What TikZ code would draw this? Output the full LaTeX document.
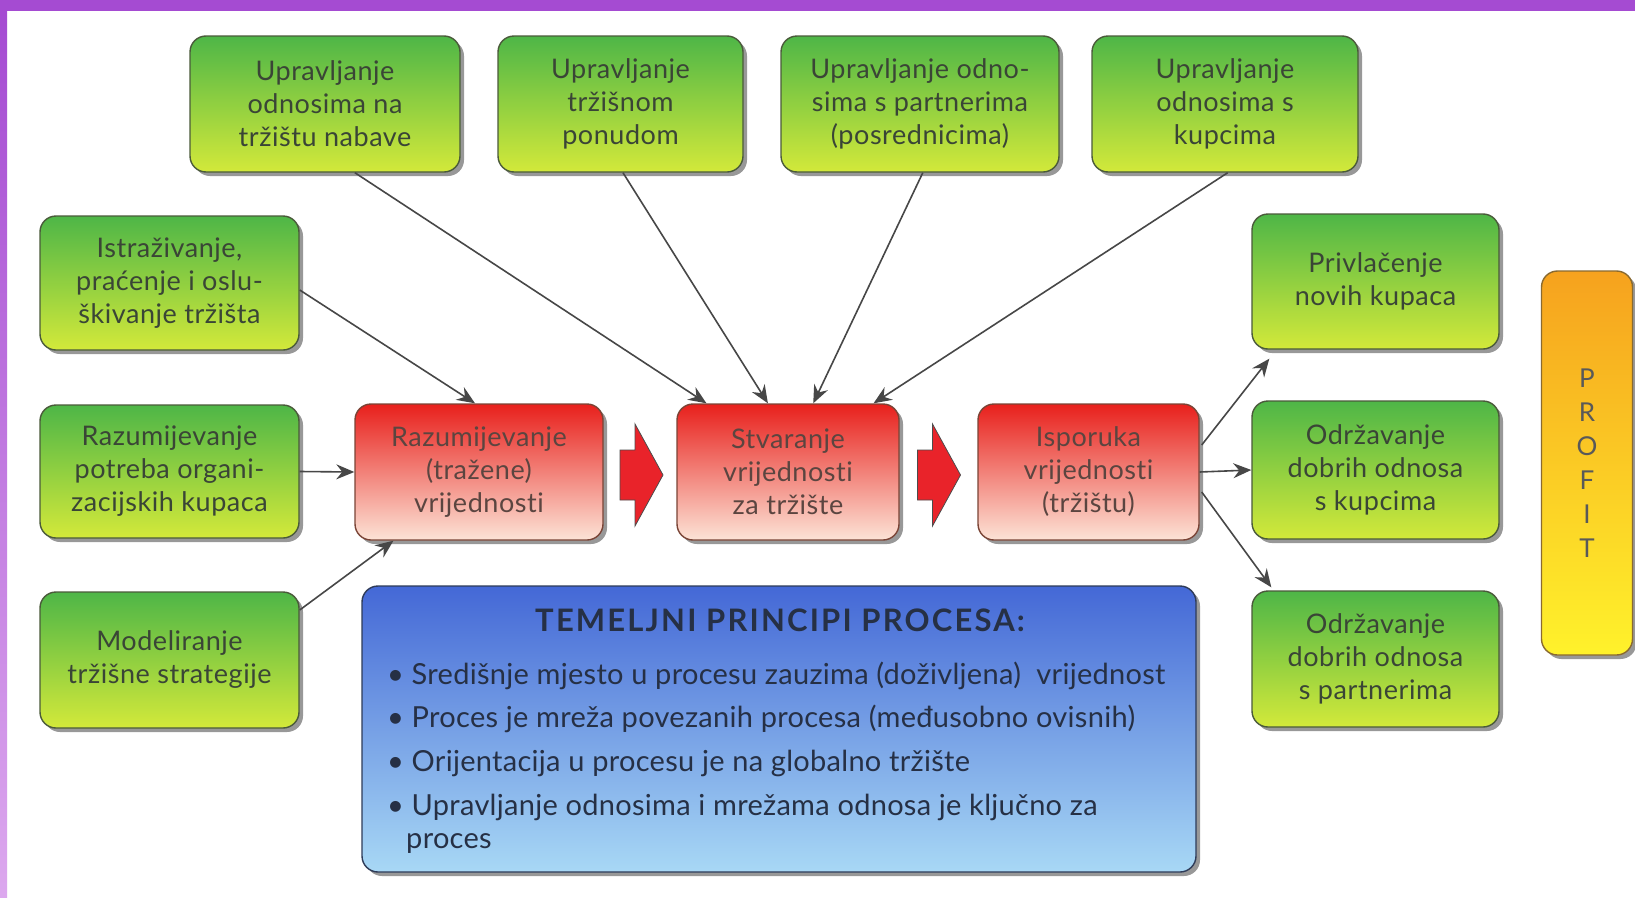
\documentclass[tikz,border=0pt]{standalone}
\usepackage{fontspec}
\setmainfont{Lato}
\newfontfamily\boxfont[LetterSpace=2, Ligatures=NoCommon]{Lato}
\newfontfamily\titlefont[LetterSpace=7, Ligatures=NoCommon]{Lato Bold}
\newfontfamily\listfont[LetterSpace=1, Ligatures=NoCommon]{Lato}
\usetikzlibrary{shadows,arrows.meta,calc}

\definecolor{framepurple}{HTML}{A54BD2}
\definecolor{framelight}{HTML}{DCA8EE}
\definecolor{greentop}{HTML}{4EB647}
\definecolor{greenbot}{HTML}{D3E93A}
\definecolor{greenedge}{HTML}{4A5A3A}
\definecolor{greentext}{HTML}{3A4536}
\definecolor{redtop}{HTML}{E8201C}
\definecolor{redmid}{HTML}{F38058}
\definecolor{redbot}{HTML}{FCE3D6}
\definecolor{rededge}{HTML}{7A4436}
\definecolor{redtext}{HTML}{5B4540}
\definecolor{bluetop}{HTML}{4468D6}
\definecolor{bluebot}{HTML}{A8D8F5}
\definecolor{blueedge}{HTML}{2E3B58}
\definecolor{bluetext}{HTML}{263045}
\definecolor{profittop}{HTML}{F6A21E}
\definecolor{profitmid}{HTML}{FCD02A}
\definecolor{profitbot}{HTML}{FFF22B}
\definecolor{profitedge}{HTML}{8A6A30}
\definecolor{linkgray}{HTML}{474747}
\definecolor{arrowred}{HTML}{E9232A}

\tikzset{
  box/.style={rounded corners=16pt, draw, line width=1.4pt, align=center,
    inner sep=0pt,
    drop shadow={shadow xshift=4pt, shadow yshift=-4pt, opacity=0.5, fill=black!80}},
  greenbox/.style={box, draw=greenedge, top color=greentop, bottom color=greenbot,
    text=greentext, font=\boxfont\fontsize{27}{33}\selectfont},
  redbox/.style={box, draw=rededge, top color=redtop, middle color=redmid,
    bottom color=redbot, text=redtext, font=\boxfont\fontsize{27}{33}\selectfont},
  bluebox/.style={box, draw=blueedge, top color=bluetop, bottom color=bluebot},
  profitbox/.style={box, draw=profitedge, top color=profittop, middle color=profitmid,
    bottom color=profitbot, text=black!65, font=\boxfont\fontsize{26}{34}\selectfont},
  link/.style={draw=linkgray, line width=1.6pt,
    -{Stealth[length=18pt, width=15pt, inset=6pt]}},
  titletext/.style={font=\titlefont\fontsize{31}{32}\selectfont, text=bluetext, inner sep=0pt},
  bullettext/.style={font=\listfont\fontsize{29}{33}\selectfont, text=bluetext, inner sep=0pt,
    align=left},
  pics/redarrow/.style={code={
    \filldraw[fill=arrowred, draw=black!70, line width=0.8pt]
      (-21,-25) -- (-6,-25) -- (-6,-51) -- (22,0) -- (-6,51) -- (-6,25)
      -- (-21,25) -- cycle;}}
}

\begin{document}
\begin{tikzpicture}[x=1pt, y=-1pt]
\useasboundingbox (0,0) rectangle (1635,897);
\fill[white] (0,0) rectangle (1635,897);
% frame
\fill[framepurple] (0,0) rectangle (1635,11);
\shade[top color=framepurple, bottom color=framelight] (0,11) rectangle (7,897);

% top row
\node[greenbox, minimum width=270pt, minimum height=136pt] (t1) at (325,104)
  {Upravljanje\\odnosima na\\tržištu nabave};
\node[greenbox, minimum width=245pt, minimum height=136pt] (t2) at (620.5,104)
  {Upravljanje\\tržišnom\\ponudom};
\node[greenbox, minimum width=278pt, minimum height=136pt] (t3) at (920,104)
  {Upravljanje odno-\\sima s partnerima\\(posrednicima)};
\node[greenbox, minimum width=266pt, minimum height=136pt] (t4) at (1225,104)
  {Upravljanje\\odnosima s\\kupcima};

% left column
\node[greenbox, minimum width=259pt, minimum height=134pt] (l1) at (169.5,283)
  {Istraživanje,\\praćenje i oslu-\\škivanje tržišta};
\node[greenbox, minimum width=259pt, minimum height=133pt] (l2) at (169.5,471.5)
  {Razumijevanje\\potreba organi-\\zacijskih kupaca};
\node[greenbox, minimum width=259pt, minimum height=136pt] (l3) at (169.5,660)
  {Modeliranje\\tržišne strategije};

% process chain
\node[redbox, minimum width=248pt, minimum height=136pt] (r1) at (479,472)
  {Razumijevanje\\(tražene)\\vrijednosti};
\node[redbox, minimum width=222pt, minimum height=136pt] (r2) at (788,472)
  {Stvaranje\\vrijednosti\\za tržište};
\node[redbox, minimum width=221pt, minimum height=136pt] (r3) at (1088.5,472)
  {Isporuka\\vrijednosti\\(tržištu)};

% right column
\node[greenbox, minimum width=247pt, minimum height=135pt] (g1) at (1375.5,281.5)
  {Privlačenje\\novih kupaca};
\node[greenbox, minimum width=247pt, minimum height=138pt] (g2) at (1375.5,470)
  {Održavanje\\dobrih odnosa\\s kupcima};
\node[greenbox, minimum width=247pt, minimum height=136pt] (g3) at (1375.5,659)
  {Održavanje\\dobrih odnosa\\s partnerima};

% profit bar
\node[profitbox, minimum width=91pt, minimum height=384pt] (profit) at (1587,463)
  {P\\R\\O\\F\\I\\T};

% principles panel
\node[bluebox, minimum width=834pt, minimum height=286pt] (panel) at (779,729) {};
\node[titletext] (ptitle) at (780,620) {TEMELJNI PRINCIPI PROCESA:};
\node[bullettext, anchor=base west] (b1) at (387,684)
  {\textbullet\ Središnje mjesto u procesu zauzima (doživljena)\ \ vrijednost};
\node[bullettext, anchor=base west] (b2) at (387,727)
  {\textbullet\ Proces je mreža povezanih procesa (međusobno ovisnih)};
\node[bullettext, anchor=base west] (b3) at (387,771)
  {\textbullet\ Orijentacija u procesu je na globalno tržište};
\node[bullettext, anchor=base west] (b4) at (387,815)
  {\textbullet\ Upravljanje odnosima i mrežama odnosa je ključno za};
\node[bullettext, anchor=base west] (b5) at (406,848) {proces};

% connectors into the value creation step
\draw[link] ($(t1.south west)!0.61!(t1.south east)$) -- ($(r2.north west)!0.135!(r2.north east)$);
\draw[link] ($(t2.south west)!0.51!(t2.south east)$) -- ($(r2.north west)!0.41!(r2.north east)$);
\draw[link] ($(t3.south west)!0.51!(t3.south east)$) -- ($(r2.north west)!0.613!(r2.north east)$);
\draw[link] ($(t4.south west)!0.51!(t4.south east)$) -- ($(r2.north west)!0.883!(r2.north east)$);

% connectors into the value understanding step
\draw[link] ($(l1.east)+(0,7)$) -- ($(r1.north west)!0.484!(r1.north east)$);
\draw[link] (l2.east) -- (r1.west);
\draw[link] ($(l3.east)+(0,-50)$) -- ($(r1.south west)!0.157!(r1.south east)$);

% connectors out of the delivery step
\draw[link] ($(r3.east)+(2,-27)$) -- ($(g1.south west)+(18,9)$);
\draw[link] (r3.east) -- (g2.west);
\draw[link] ($(r3.east)+(2,20)$) -- ($(g3.north west)+(20,-3)$);

% block arrows between the steps
\coordinate (m1) at ($(r1.east)!0.5!(r2.west)$);
\coordinate (m2) at ($(r2.east)!0.5!(r3.west)$);
\pic at ($(m1)+(1,3)$) {redarrow};
\pic at ($(m2)+(0,3)$) {redarrow};
\end{tikzpicture}
\end{document}
